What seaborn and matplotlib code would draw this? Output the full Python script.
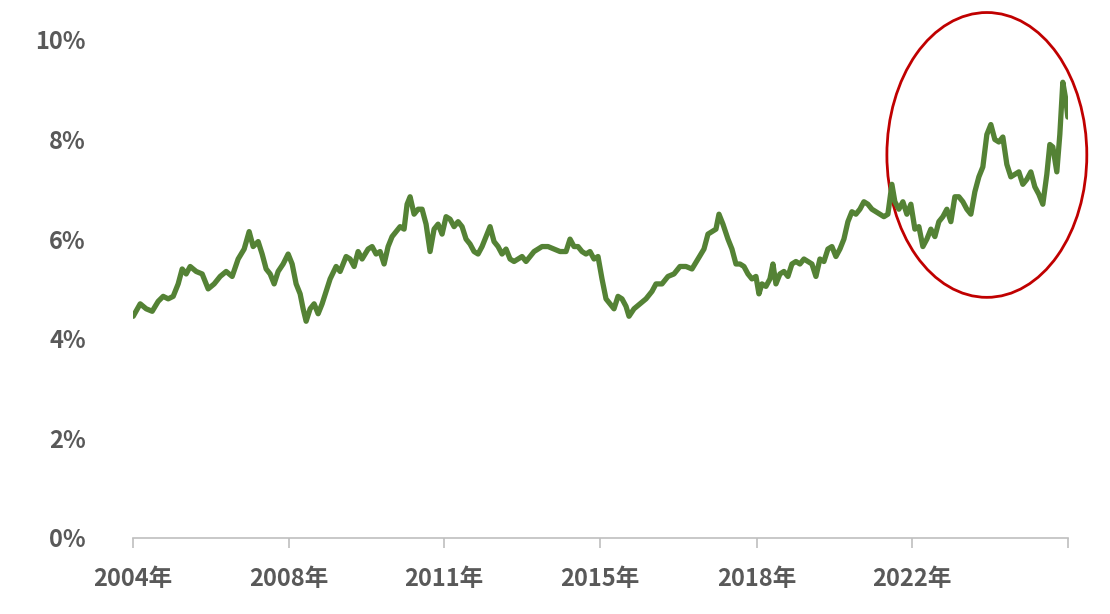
import matplotlib
matplotlib.use("Agg")
import matplotlib.pyplot as plt
import seaborn as sns
import pandas as pd
from matplotlib.patches import Ellipse

# time in chart units (0 = start of 2004, 935 = end of series)
t = [0,7,13,19,25,30,35,40,45,49,53,57,63,69,75,81,87,93,99,105,111,116,120,125,129,133,137,141,145,150,155,159,163,167,170,173,177,181,185,189,193,197,203,207,213,217,221,225,229,235,239,243,247,251,255,259,263,267,271,274,277,281,285,289,293,297,301,305,309,313,317,321,325,329,333,337,341,345,349,353,357,361,365,369,373,377,381,385,389,393,397,401,405,409,415,421,427,433,437,441,445,449,453,457,461,465,469,473,477,481,485,489,493,496,501,507,513,519,523,529,535,541,547,553,559,565,571,575,579,583,586,590,595,599,603,607,611,615,619,623,626,629,633,637,640,643,647,651,655,659,663,667,671,675,679,683,687,691,695,699,703,707,711,715,719,723,727,731,735,739,743,747,751,755,759,762,766,770,774,778,782,786,790,794,798,802,806,810,814,818,822,826,830,834,838,842,846,850,854,858,862,866,870,874,878,882,886,890,894,898,902,906,910,914,917,920,924,927,930,933,935]
rate = [4.45,4.7,4.6,4.55,4.75,4.85,4.8,4.85,5.1,5.4,5.3,5.45,5.35,5.3,5.0,5.1,5.25,5.35,5.25,5.6,5.8,6.15,5.85,5.95,5.7,5.4,5.3,5.1,5.35,5.5,5.7,5.5,5.1,4.9,4.6,4.35,4.6,4.7,4.5,4.7,4.95,5.2,5.45,5.35,5.65,5.6,5.45,5.75,5.6,5.8,5.85,5.7,5.75,5.5,5.85,6.05,6.15,6.25,6.2,6.7,6.85,6.5,6.6,6.6,6.3,5.75,6.2,6.3,6.1,6.45,6.4,6.25,6.35,6.25,6.0,5.9,5.75,5.7,5.85,6.05,6.25,5.95,5.85,5.7,5.8,5.6,5.55,5.6,5.65,5.55,5.65,5.75,5.8,5.85,5.85,5.8,5.75,5.75,6.0,5.85,5.85,5.75,5.7,5.75,5.6,5.65,5.2,4.8,4.7,4.6,4.85,4.8,4.65,4.45,4.6,4.7,4.8,4.95,5.1,5.1,5.25,5.3,5.45,5.45,5.4,5.6,5.8,6.1,6.15,6.2,6.5,6.3,6.0,5.8,5.5,5.5,5.45,5.3,5.2,5.25,4.9,5.1,5.05,5.2,5.5,5.1,5.3,5.35,5.25,5.5,5.55,5.5,5.6,5.55,5.5,5.25,5.6,5.55,5.8,5.85,5.65,5.8,6.0,6.35,6.55,6.5,6.6,6.75,6.7,6.6,6.55,6.5,6.45,6.5,7.1,6.75,6.6,6.75,6.5,6.7,6.2,6.25,5.85,6.0,6.2,6.05,6.35,6.45,6.6,6.35,6.85,6.85,6.75,6.6,6.5,6.95,7.25,7.45,8.1,8.3,8.0,7.95,8.05,7.5,7.25,7.3,7.35,7.1,7.2,7.35,7.05,6.9,6.7,7.3,7.9,7.85,7.35,8.1,9.15,8.8,8.45]
n = min(len(t), len(rate))
t, rate = t[:n], rate[:n]

tick_pos = [0,156,311,467,624,779,935]
tick_labels = ["2004年","2008年","2011年","2015年","2018年","2022年",""]
y_ticks = [0,2,4,6,8,10]
y_labels = ["0%","2%","4%","6%","8%","10%"]

sns.set_theme(style="white")
plt.rcParams['font.family'] = ['Noto Sans CJK JP', 'DejaVu Sans']

fig = plt.figure(figsize=(11.1, 6.14), dpi=100)
ax = fig.add_axes([0.12, 0.124, 0.842, 0.811])
df = pd.DataFrame({"t": t, "rate": rate})
sns.lineplot(data=df, x="t", y="rate", ax=ax, color="#548235", linewidth=3.8, sort=False)

ax.set_xlim(0, 935)
ax.set_ylim(0, 10)
ax.set_xticks(tick_pos)
ax.set_xticklabels(tick_labels)
ax.set_yticks(y_ticks)
ax.set_yticklabels(y_labels)
ax.set_xlabel("")
ax.set_ylabel("")
for s in ["top", "right", "left"]:
    ax.spines[s].set_visible(False)
ax.spines["bottom"].set_color("#BFBFBF")
ax.spines["bottom"].set_linewidth(1.2)
ax.tick_params(axis="x", bottom=True, length=7, width=1.2, color="#BFBFBF", pad=14)
ax.tick_params(axis="y", left=False, pad=28)
for lab in ax.get_xticklabels() + ax.get_yticklabels():
    lab.set_fontweight("bold")
    lab.set_fontsize(17)
    lab.set_color("#595959")

ax.add_patch(Ellipse((854, 7.69), 200, 5.72, fill=False, edgecolor="#C00000", linewidth=2, clip_on=False))

fig.savefig("out.png", dpi=100)
